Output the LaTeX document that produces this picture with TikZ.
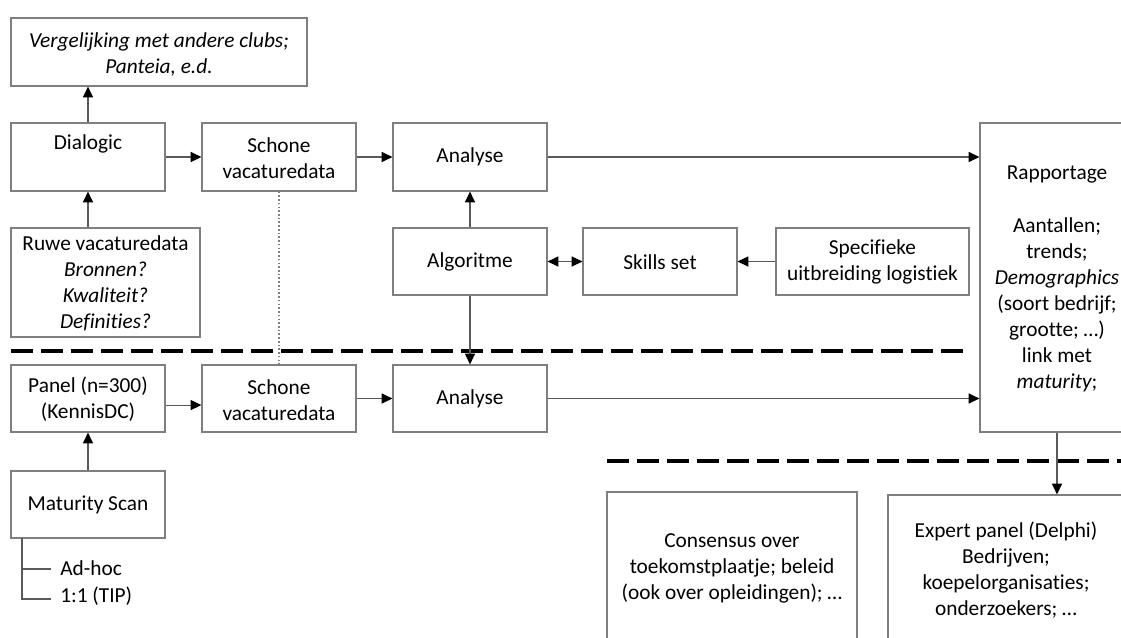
\documentclass[tikz,border=0pt]{standalone}
\usepackage{fontspec}
\setmainfont[Ligatures=NoCommon]{Carlito}
\usetikzlibrary{fit,arrows.meta}

\definecolor{boxgray}{HTML}{7F7F7F}
\definecolor{linegray}{HTML}{595959}

\begin{document}
\begin{tikzpicture}[x=0.75pt,y=-0.75pt,
  box/.style={draw=boxgray, line width=0.9pt, inner sep=0pt, fit={#1}},
  txt/.style={align=center, inner sep=0pt, text=black,
    font=\fontsize{16}{19.5}\selectfont},
  arr/.style={draw=linegray, line width=0.8pt,
    -{Triangle[length=8pt,width=7.5pt,black]}},
  biarr/.style={draw=linegray, line width=0.8pt,
    {Triangle[length=8pt,width=7.5pt,black]}-{Triangle[length=8pt,width=7.5pt,black]}},
  plain/.style={draw=linegray, line width=0.8pt},
  sep/.style={draw=black, line width=2.3pt, dash pattern=on 16.5pt off 6pt},
  dots/.style={draw=boxgray, line width=0.8pt, dash pattern=on 1.2pt off 1.6pt},
]
\clip (0,0) rectangle (1121,637);
\fill[white] (0,0) rectangle (1121,637);

% boxes
\node[box={(11,18)(307,86)}]     (verg) {};
\node[box={(11,123)(165,191)}]   (dialogic) {};
\node[box={(202,123)(356,191)}]  (schone1) {};
\node[box={(393,123)(547,191)}]  (analyse1) {};
\node[box={(980,123)(1134,432)}] (rapport) {};
\node[box={(11,228)(200,337)}]   (ruwe) {};
\node[box={(393,228)(547,295)}]  (algo) {};
\node[box={(583,228)(737,295)}]  (skills) {};
\node[box={(776,228)(969,295)}]  (spec) {};
\node[box={(11,365)(165,432)}]   (panel) {};
\node[box={(202,365)(356,432)}]  (schone2) {};
\node[box={(393,365)(547,432)}]  (analyse2) {};
\node[box={(11,471)(165,538)}]   (maturity) {};
\node[box={(607,492)(857,660)}]  (consensus) {};
\node[box={(888,495)(1127,660)}] (expert) {};

% texts
\node[txt] (verg-t) at (159,54) {\itshape Vergelijking met andere clubs;\\\itshape Panteia, e.d.};
\node[txt] (dialogic-t) at (88,144) {Dialogic};
\node[txt] (schone1-t) at (279,158) {Schone\\vacaturedata};
\node[txt] (analyse1-t) at (470,157) {Analyse};
\node[txt] (rapport-t) at (1057,279) {Rapportage\\[20pt]Aantallen;\\trends;\\\itshape Demographics\\(soort bedrijf;\\grootte; …)\\link met\\\itshape maturity\upshape;};
\node[txt] (ruwe-t) at (105.5,283) {Ruwe vacaturedata\\\itshape Bronnen?\\\itshape Kwaliteit?\\\itshape Definities?};
\node[txt] (algo-t) at (470,262) {Algoritme};
\node[txt] (skills-t) at (660,262) {Skills set};
\node[txt] (spec-t) at (872.5,261.5) {Specifieke\\uitbreiding logistiek};
\node[txt] (panel-t) at (88,399) {Panel (n=300)\\(KennisDC)};
\node[txt] (schone2-t) at (279,400) {Schone\\vacaturedata};
\node[txt] (analyse2-t) at (470,399) {Analyse};
\node[txt] (maturity-t) at (88,505) {Maturity Scan};
\node[txt, anchor=west] (adhoc-t) at (60,568) {Ad-hoc};
\node[txt, anchor=west] (tip-t) at (60,596) {1:1 (TIP)};
\node[txt] (consensus-t) at (732,568) {Consensus over\\toekomstplaatje; beleid\\(ook over opleidingen); …};
\node[txt] (expert-t) at (1006,570) {Expert panel (Delphi)\\Bedrijven;\\koepelorganisaties;\\onderzoekers; …};

% section separators
\draw[sep] (11,351) -- (969,351);
\draw[sep] (607,461) -- (1121,461);

% connectors
\draw[arr] (dialogic.north) -- (verg.south -| dialogic.north);
\draw[arr] (ruwe.north -| dialogic.south) -- (dialogic.south);
\draw[arr] (dialogic.east) -- (schone1.west);
\draw[arr] (schone1.east) -- (analyse1.west);
\draw[arr] (analyse1.east) -- (analyse1.east -| rapport.west);
\draw[arr] (algo.north) -- (analyse1.south);
\draw[arr] (algo.south) -- (analyse2.north);
\draw[biarr] (algo.east) -- (skills.west);
\draw[arr] (spec.west) -- (skills.east);
\draw[dots] (schone1.south) -- (schone2.north);
\draw[arr] ([yshift=-4.9pt]panel.east) -- ([yshift=-4.9pt]schone2.west);
\draw[arr] (schone2.east) -- (analyse2.west);
\draw[arr] (analyse2.east) -- (analyse2.east -| rapport.west);
\draw[arr] (maturity.north) -- (panel.south);
\draw[arr] (rapport.south) -- (rapport.south |- expert.north);

% branches below the maturity scan
\coordinate (stem) at (22,538);
\coordinate (adhoc) at (51,569);
\coordinate (tip) at (51,599);
\draw[plain] (stem) |- (adhoc);
\draw[plain] (stem) |- (tip);
\end{tikzpicture}
\end{document}
